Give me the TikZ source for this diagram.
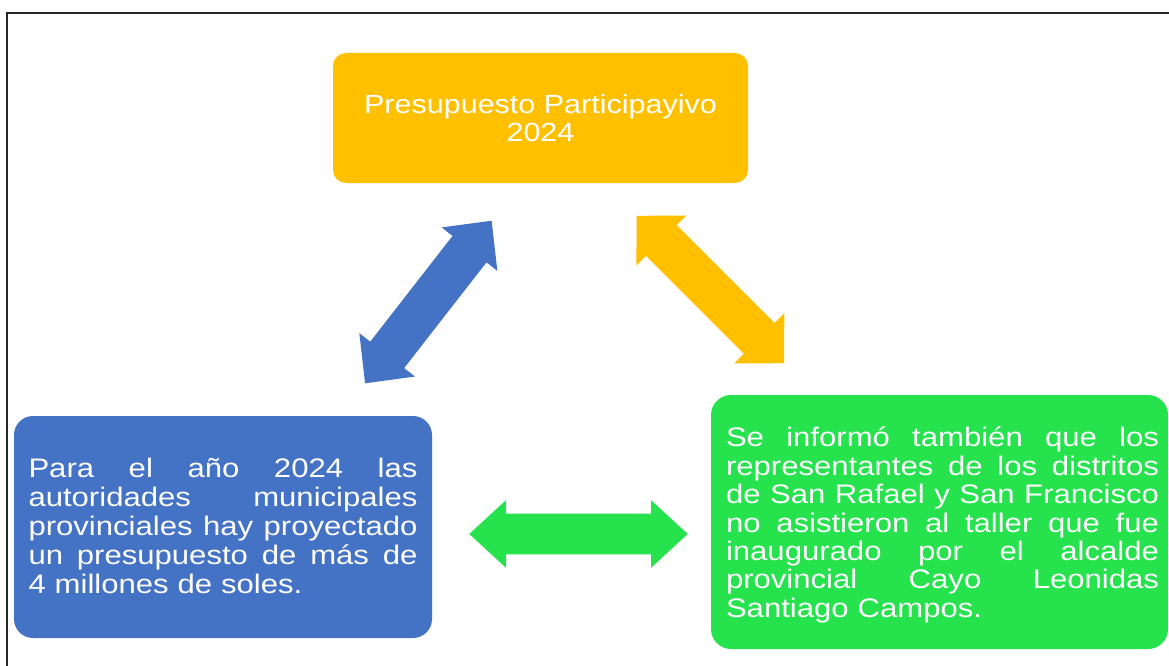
\documentclass[tikz,border=0pt]{standalone}
\usepackage{fontspec}
\setmainfont{Liberation Sans}
\newfontfamily\boxfont[FakeStretch=1.16]{Liberation Sans}
\definecolor{ppyellow}{HTML}{FFC000}
\definecolor{ppblue}{HTML}{4472C4}
\definecolor{ppgreen}{HTML}{25E24D}
\tikzset{
  card/.style={rectangle, rounded corners=#1, inner sep=0pt, text=white},
  cardtext/.style={inner sep=0pt, text=white, align=left},
  frameline/.style={line width=2pt, black!85},
}
% one justified line: words spread over the full line width
\newcommand\jl[1]{\leavevmode\hbox to\linewidth{\spaceskip=0.28em plus 1fil\relax #1}}
% double-headed block arrow: name, colour, angle, half length, head length, head half width, shaft half width
\newcommand\ppArrow[7]{%
  \fill[#2, shift={(#1)}, rotate=#3]
    (-#4,0) -- ({-#4+#5},#6) -- ({-#4+#5},#7) -- ({#4-#5},#7) -- ({#4-#5},#6)
    -- (#4,0) -- ({#4-#5},-#6) -- ({#4-#5},-#7) -- ({-#4+#5},-#7) -- ({-#4+#5},-#6) -- cycle;}
\begin{document}
\begin{tikzpicture}[x=1pt,y=-1pt]
\useasboundingbox (0,0) rectangle (1169,666);
\fill[white] (0,0) rectangle (1169,666);
\draw[frameline] (6.8,666) -- (6.8,13.5) -- (1169,13.5);

\node[card=13pt, fill=ppyellow, minimum width=415pt, minimum height=130pt,
      align=center, font=\boxfont\fontsize{26.3}{28}\selectfont] (title) at (540.5,118)
  {Presupuesto Participayivo\\2024};

\node[card=19pt, fill=ppblue, minimum width=418pt, minimum height=222pt] (left) at (223,527) {};
\node[cardtext, text width=389pt, font=\boxfont\fontsize{26.8}{29.2}\selectfont] (leftText) at (223,526)
  {\jl{Para el año 2024 las}\\
   \jl{autoridades municipales}\\
   \jl{provinciales hay proyectado}\\
   \jl{un presupuesto de más de}\\
   4 millones de soles.};

\node[card=20pt, fill=ppgreen, minimum width=457pt, minimum height=254pt] (right) at (939.5,522) {};
\node[cardtext, text width=433pt, font=\boxfont\fontsize{26.8}{28.4}\selectfont] (rightText) at (942.5,525)
  {\jl{Se informó también que los}\\
   \jl{representantes de los distritos}\\
   \jl{de San Rafael y San Francisco}\\
   \jl{no asistieron al taller que fue}\\
   \jl{inaugurado por el alcalde}\\
   \jl{provincial Cayo Leonidas}\\
   Santiago Campos.};

\coordinate (blueArrow) at (428.35,302);
\coordinate (yellowArrow) at (710.35,289.5);
\coordinate (greenArrow) at (578.5,534);
\ppArrow{blueArrow}{ppblue}{52.1}{103}{36}{35.3}{21.5}
\ppArrow{yellowArrow}{ppyellow}{-45}{104.2}{35}{35.4}{21.8}
\ppArrow{greenArrow}{ppgreen}{0}{109.2}{36.7}{33.8}{20.3}
\end{tikzpicture}
\end{document}
